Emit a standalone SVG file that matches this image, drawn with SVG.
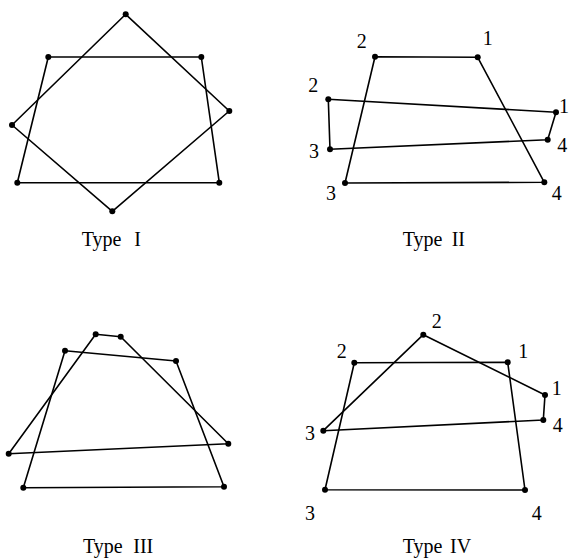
<svg xmlns="http://www.w3.org/2000/svg" width="570" height="560" viewBox="0 0 570 560">
<style>
.e{fill:none;stroke:#000;stroke-width:1.6;stroke-linejoin:round}
.d{fill:#000}
text{font-family:"Liberation Serif","Times New Roman",serif;font-size:20px;fill:#000}
.c{text-anchor:middle}
</style>
<rect width="570" height="560" fill="#fff"/>
<g id="connectors">
<polygon class="e" points="48.3,57 201.3,57 219.3,182.7 17.3,182.7"/>
<polygon class="e" points="125.7,14.3 229.3,111 112.3,211.3 12,125"/>
<polygon class="e" points="375,56.7 477.7,57.3 544.3,182.3 345,183"/>
<polygon class="e" points="328.3,99.3 556,112.3 547.7,139.7 330,149.3"/>
<polygon class="e" points="65,350.7 176,361 224,486.7 23.3,487.7"/>
<polygon class="e" points="95.7,334.3 120.7,336.7 228.3,443.7 8.7,453.7"/>
<polygon class="e" points="354.3,362.7 507.7,362.3 525,490 325,489.7"/>
<polygon class="e" points="423.3,334.7 545,395 543.3,420 323.3,430.7"/>
</g>
<g id="typeI">
<circle class="d" cx="48.3" cy="57" r="3"/><circle class="d" cx="201.3" cy="57" r="3"/><circle class="d" cx="219.3" cy="182.7" r="3"/><circle class="d" cx="17.3" cy="182.7" r="3"/>
<circle class="d" cx="125.7" cy="14.3" r="3"/><circle class="d" cx="229.3" cy="111" r="3"/><circle class="d" cx="112.3" cy="211.3" r="3"/><circle class="d" cx="12" cy="125" r="3"/>
<text x="81.7" y="246">Type<tspan x="134.3">I</tspan></text>
</g>
<g id="typeII">
<circle class="d" cx="375" cy="56.7" r="3"/><circle class="d" cx="477.7" cy="57.3" r="3"/><circle class="d" cx="544.3" cy="182.3" r="3"/><circle class="d" cx="345" cy="183" r="3"/>
<circle class="d" cx="328.3" cy="99.3" r="3"/><circle class="d" cx="556" cy="112.3" r="3"/><circle class="d" cx="547.7" cy="139.7" r="3"/><circle class="d" cx="330" cy="149.3" r="3"/>
<text class="c" x="361.7" y="48">2</text>
<text class="c" x="487.7" y="45">1</text>
<text class="c" x="313.3" y="92">2</text>
<text class="c" x="314" y="158">3</text>
<text class="c" x="331" y="200">3</text>
<text class="c" x="562.3" y="152">4</text>
<text class="c" x="556.7" y="200">4</text>
<text x="559" y="113">1</text>
<text x="402.7" y="246">Type<tspan x="451.7">II</tspan></text>
</g>
<g id="typeIII">
<circle class="d" cx="65" cy="350.7" r="3"/><circle class="d" cx="176" cy="361" r="3"/><circle class="d" cx="224" cy="486.7" r="3"/><circle class="d" cx="23.3" cy="487.7" r="3"/>
<circle class="d" cx="95.7" cy="334.3" r="3"/><circle class="d" cx="120.7" cy="336.7" r="3"/><circle class="d" cx="228.3" cy="443.7" r="3"/><circle class="d" cx="8.7" cy="453.7" r="3"/>
<text x="83" y="553">Type<tspan x="133.3">III</tspan></text>
</g>
<g id="typeIV">
<circle class="d" cx="354.3" cy="362.7" r="3"/><circle class="d" cx="507.7" cy="362.3" r="3"/><circle class="d" cx="525" cy="490" r="3"/><circle class="d" cx="325" cy="489.7" r="3"/>
<circle class="d" cx="423.3" cy="334.7" r="3"/><circle class="d" cx="545" cy="395" r="3"/><circle class="d" cx="543.3" cy="420" r="3"/><circle class="d" cx="323.3" cy="430.7" r="3"/>
<text class="c" x="436.7" y="328">2</text>
<text class="c" x="341.7" y="358">2</text>
<text class="c" x="523.3" y="358">1</text>
<text class="c" x="556.7" y="395">1</text>
<text class="c" x="557.7" y="432">4</text>
<text class="c" x="310" y="440">3</text>
<text class="c" x="310" y="520">3</text>
<text class="c" x="536.7" y="520">4</text>
<text x="402.7" y="553">Type<tspan x="450">IV</tspan></text>
</g>
</svg>
